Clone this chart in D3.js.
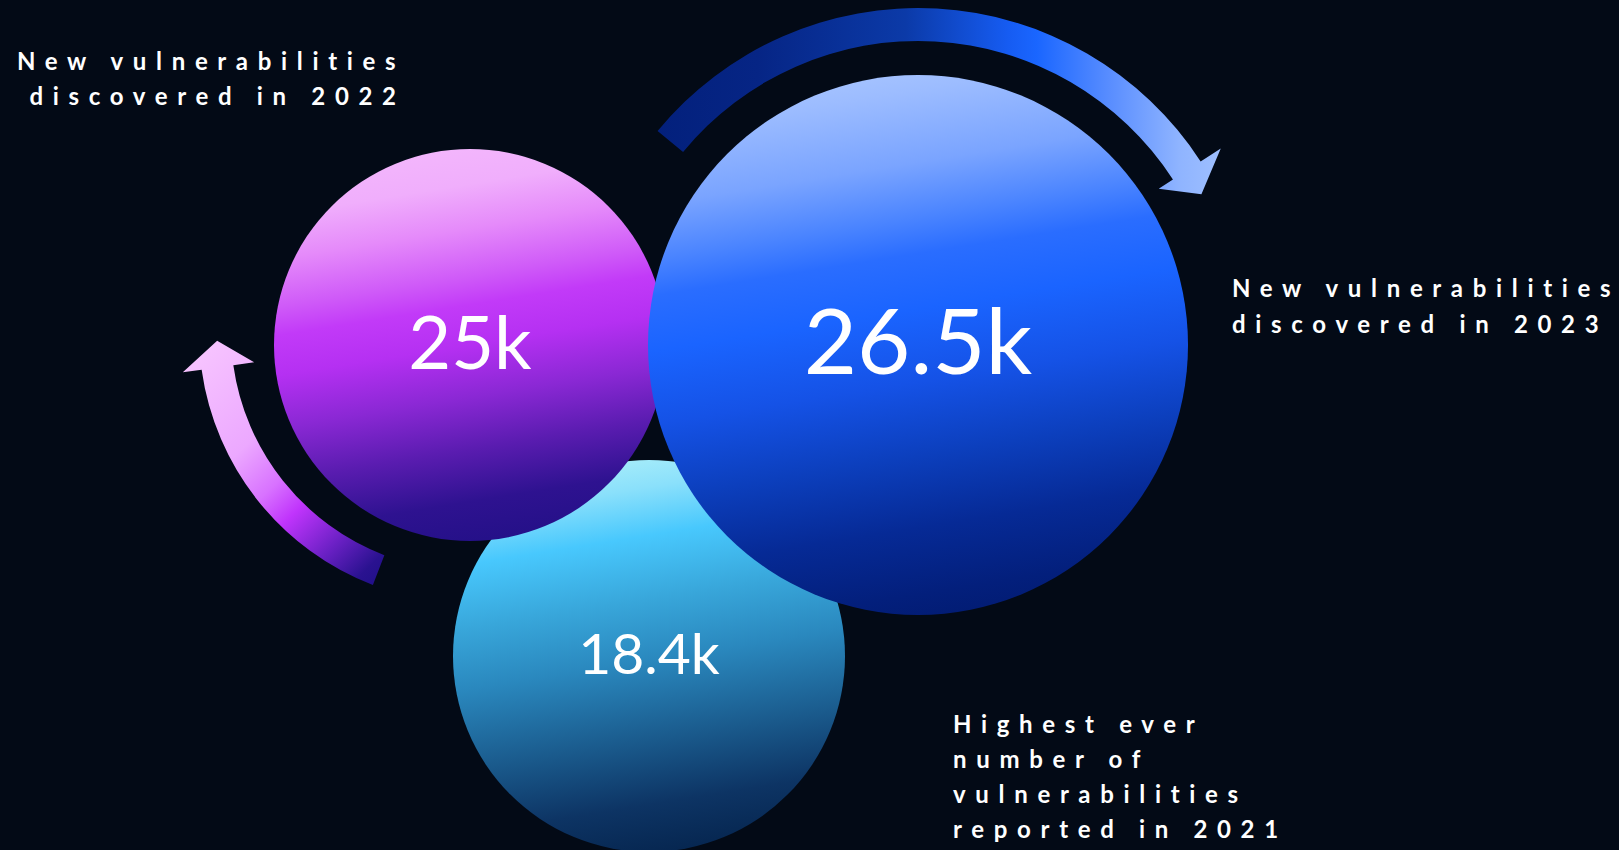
<!DOCTYPE html>
<html>
<head>
<meta charset="utf-8">
<script src="https://cdn.jsdelivr.net/npm/d3@7"></script>
<style>
  html, body { margin: 0; padding: 0; background: #030a16; }
  svg { display: block; }
</style>
</head>
<body>
<svg id="chart" width="1619" height="850"></svg>
<script>
// ---------------- DATA ----------------
const years = ["2022", "2023", "2021"];
const values = [25, 26.5, 18.4];                 // thousands of vulnerabilities
const valueUnits = ["k", "k", "k"];
const captions = [
  ["New vulnerabilities", "discovered in 2022"],
  ["New vulnerabilities", "discovered in 2023"],
  ["Highest ever", "number of", "vulnerabilities", "reported in 2021"]
];

// ---------------- LAYOUT / STYLE ----------------
const W = 1619, H = 850;
const layout = [
  { cx: 470, cy: 345, r: 196, fs: 74, base: 24 },
  { cx: 918, cy: 345, r: 270, fs: 92, base: 29 },
  { cx: 649, cy: 656, r: 196, fs: 57, base: 18 }
];
const gradients = [
  { id: "gPurple", stops: [[0, "#f3b6fc"], [0.1, "#f0aefc"], [0.21, "#e58afa"], [0.33, "#cf5af8"], [0.4, "#c23af8"], [0.5, "#b530f2"], [0.63, "#8a28d4"], [0.76, "#5a1cb0"], [0.89, "#2e1290"], [1, "#241088"]] },
  { id: "gBlue", stops: [[0, "#a4c2ff"], [0.04, "#9cbcff"], [0.17, "#7aa4ff"], [0.27, "#4a84ff"], [0.335, "#2a6dff"], [0.435, "#1a64ff"], [0.567, "#1552e6"], [0.7, "#0c3fbd"], [0.83, "#062a96"], [0.95, "#031f7c"], [1, "#021c74"]] },
  { id: "gCyan", stops: [[0, "#a5ecfa"], [0.08, "#8ae0fb"], [0.2, "#48c8fd"], [0.36, "#38a6da"], [0.51, "#2a88be"], [0.71, "#1a5a8c"], [0.87, "#0d3464"], [1, "#062650"]] }
];
const drawOrder = [2, 0, 1];

const svg = d3.select("#chart");
svg.append("rect").attr("width", W).attr("height", H).attr("fill", "#030a16");
const defs = svg.append("defs");

gradients.forEach(g => {
  const lg = defs.append("linearGradient").attr("id", g.id)
    .attr("x1", 0.42).attr("y1", 0).attr("x2", 0.58).attr("y2", 1);
  lg.selectAll("stop").data(g.stops).join("stop")
    .attr("offset", d => d[0]).attr("stop-color", d => d[1]);
});

// arrow gradients
const topArrowGrad = defs.append("linearGradient").attr("id", "gTopArrow")
  .attr("gradientUnits", "userSpaceOnUse").attr("x1", 655).attr("y1", 0).attr("x2", 1225).attr("y2", 0);
topArrowGrad.selectAll("stop").data([[0, "#03207c"], [0.18, "#062585"], [0.44, "#0b3aa8"], [0.62, "#165cf2"], [0.67, "#1a66ff"], [0.8, "#5a8eff"], [0.92, "#8fb4ff"], [1, "#a0c0ff"]]).join("stop")
  .attr("offset", d => d[0]).attr("stop-color", d => d[1]);

const leftArrowGrad = defs.append("linearGradient").attr("id", "gLeftArrow")
  .attr("gradientUnits", "userSpaceOnUse").attr("x1", 190).attr("y1", 370).attr("x2", 385).attr("y2", 575);
leftArrowGrad.selectAll("stop").data([[0, "#f6c2ff"], [0.33, "#eca8ff"], [0.5, "#d872ff"], [0.62, "#c034fc"], [0.8, "#6a20c4"], [0.94, "#2a1290"], [1, "#22108a"]]).join("stop")
  .attr("offset", d => d[0]).attr("stop-color", d => d[1]);

// ---------------- ARROWS ----------------
function arrowPath(o) {
  const rad = a => a * Math.PI / 180;
  const pt = (r, a) => [o.cx + r * Math.sin(rad(a)), o.cy - r * Math.cos(rad(a))];
  const p = d3.path();
  const s = pt(o.rOut, o.a0);
  p.moveTo(s[0], s[1]);
  p.arc(o.cx, o.cy, o.rOut, rad(o.a0 - 90), rad(o.a1 - 90), false);
  let q = pt(o.barbOut, o.a1); p.lineTo(q[0], q[1]);
  q = pt(o.rTip, o.aTip); p.lineTo(q[0], q[1]);
  q = pt(o.barbIn, o.a1); p.lineTo(q[0], q[1]);
  q = pt(o.rIn, o.a1); p.lineTo(q[0], q[1]);
  p.arc(o.cx, o.cy, o.rIn, rad(o.a1 - 90), rad(o.a0 - 90), true);
  p.closePath();
  return p.toString();
}
const arrows = [
  { cx: 918, cy: 345, rIn: 304, rOut: 337, a0: -50.6, a1: 57, aTip: 62, rTip: 321, barbIn: 287, barbOut: 361, fill: "url(#gTopArrow)" },
  { cx: 470, cy: 332, rIn: 239, rOut: 271, a0: 201, a1: 262, aTip: 268, rTip: 253, barbIn: 218, barbOut: 290, fill: "url(#gLeftArrow)" }
];
svg.append("g").selectAll("path").data(arrows).join("path")
  .attr("d", arrowPath).attr("fill", d => d.fill);

// ---------------- CIRCLES ----------------
const gCircles = svg.append("g");
drawOrder.forEach(i => {
  const L = layout[i];
  gCircles.append("circle")
    .attr("cx", L.cx).attr("cy", L.cy).attr("r", L.r)
    .attr("fill", `url(#${gradients[i].id})`);
});
drawOrder.forEach(i => {
  const L = layout[i];
  gCircles.append("text")
    .attr("x", L.cx).attr("y", L.cy + L.base)
    .attr("text-anchor", "middle")
    .attr("fill", "#ffffff")
    .attr("font-family", "Lato, 'Open Sans', sans-serif")
    .attr("font-weight", 400)
    .attr("font-size", L.fs)
    .text(d3.format("")(values[i]) + valueUnits[i]);
});

// ---------------- CAPTIONS ----------------
const capFS = 24;
const capPos = [
  { align: "right", x: 396, y: 70, lh: 34.5 },
  { align: "left", x: 1232, y: 297, lh: 36 },
  { align: "left", x: 953, y: 733, lh: 35 }
];
const gCap = svg.append("g")
  .attr("font-family", "Lato, 'Open Sans', sans-serif")
  .attr("font-weight", 700)
  .attr("font-size", capFS)
  .attr("fill", "#ffffff");

// measure natural width to derive the letter-spacing
const probe = gCap.append("text").text(captions[0][0]);
const natural = probe.node().getComputedTextLength();
probe.remove();
const targetW = 379;
const n0 = captions[0][0].length;
const ls = (targetW - natural) / (n0 - 1);

captions.forEach((lines, k) => {
  const P = capPos[k];
  lines.forEach((line, j) => {
    const t = gCap.append("text").text(line);
    const w = t.node().getComputedTextLength();
    const vis = w + ls * (line.length - 1);
    t.attr("letter-spacing", ls)
     .attr("x", P.align === "right" ? P.x - vis : P.x)
     .attr("y", P.y + j * P.lh);
  });
});
</script>
</body>
</html>
